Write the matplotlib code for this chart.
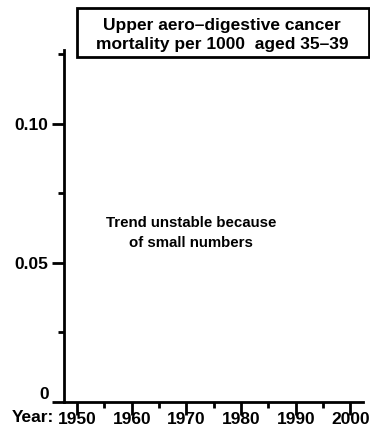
import matplotlib
matplotlib.use('Agg')
import matplotlib.pyplot as plt
from matplotlib.ticker import MultipleLocator

plt.rcParams['font.family'] = ['Liberation Sans', 'DejaVu Sans']
plt.rcParams['font.weight'] = 'bold'
plt.rcParams['font.size'] = 12.5

# axis ranges and ticks
x_ticks = [1950, 1960, 1970, 1980, 1990, 2000]
x_tick_labels = ['1950', '1960', '1970', '1980', '1990', '2000']
y_ticks = [0, 0.05, 0.10]
y_tick_labels = ['0', '0.05', '0.10']
x_range = (1947.6, 2002.3)
y_range = (0, 0.1265)

title_text = 'Upper aero\u2013digestive cancer\nmortality per 1000  aged 35\u201339'
note_text = 'Trend unstable because\nof small numbers'

fig = plt.figure(figsize=(3.7, 4.37), dpi=100)
ax = fig.add_axes([64 / 370, 35 / 437, 299 / 370, 352 / 437])

ax.set_xlim(*x_range)
ax.set_ylim(*y_range)
ax.set_xticks(x_ticks)
ax.set_xticklabels(x_tick_labels)
ax.set_yticks(y_ticks)
ax.set_yticklabels(y_tick_labels)
ax.xaxis.set_minor_locator(MultipleLocator(5))
ax.yaxis.set_minor_locator(MultipleLocator(0.025))
# the zero label sits just above its tick
ax.get_yticklabels()[0].set_va('bottom')

for s in ['top', 'right']:
    ax.spines[s].set_visible(False)
for s in ['left', 'bottom']:
    ax.spines[s].set_linewidth(2)

ax.tick_params(which='major', length=9, width=2, labelsize=12.5)
ax.tick_params(axis='x', which='major', pad=-2)
ax.tick_params(axis='y', which='major', pad=2)
ax.tick_params(which='minor', length=4, width=2)

fig.text(12 / 370, 1 - 418 / 437, 'Year:', ha='left', va='center',
         fontsize=12.5, fontweight='bold')

fig.text(191 / 370, 1 - 233 / 437, note_text, ha='center', va='center',
         fontsize=10.8, fontweight='bold', linespacing=1.5)

fig.text(222 / 370, 1 - 35 / 437, title_text, ha='center', va='center',
         fontsize=12.5, fontweight='bold', linespacing=1.35)
box = plt.Rectangle((77 / 370, 1 - 57 / 437), 292 / 370, 49 / 437,
                    transform=fig.transFigure, fill=False, lw=2, color='black')
fig.add_artist(box)

fig.savefig('out.png', dpi=100)
